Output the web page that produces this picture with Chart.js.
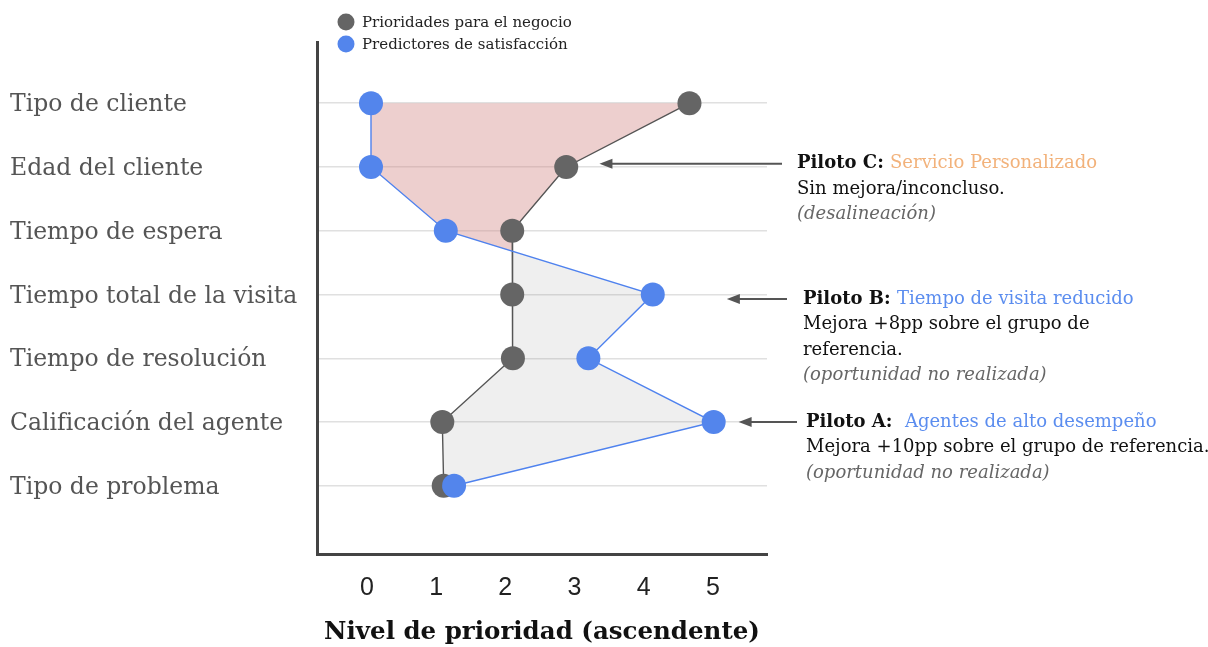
<!DOCTYPE html>
<html lang="es">
<head>
<meta charset="utf-8">
<title>Nivel de prioridad</title>
<script src="https://cdn.jsdelivr.net/npm/chart.js@4.4.1/dist/chart.umd.min.js"></script>
<style>
  html, body { margin: 0; padding: 0; background: #fff; }
  #wrap { position: relative; width: 1208px; height: 647px; }
</style>
</head>
<body>
<div id="wrap"><canvas id="grafico"></canvas></div>
<script>
// Filas del eje vertical (de arriba hacia abajo)
const categorias = [
  'Tipo de cliente',
  'Edad del cliente',
  'Tiempo de espera',
  'Tiempo total de la visita',
  'Tiempo de resolución',
  'Calificación del agente',
  'Tipo de problema'
];

// Nivel de prioridad por fila
const prioridadesNegocio      = [4.66, 2.88, 2.10, 2.10, 2.11, 1.09, 1.11];
const predictoresSatisfaccion = [0.06, 0.06, 1.14, 4.13, 3.20, 5.01, 1.26];

const nivelesX = [0, 1, 2, 3, 4, 5];
const nombresSeries = ['Prioridades para el negocio', 'Predictores de satisfacción'];
const tituloEjeX = 'Nivel de prioridad (ascendente)';

// Notas de los pilotos
const pilotos = [
  { fila: 0.95, punta: 3.36, cola: 782, textoX: 797,
    titulo: 'Piloto C: ', servicio: 'Servicio Personalizado', colorServicio: '#f2b27b',
    lineas: ['Sin mejora/inconcluso.'], nota: '(desalineación)' },
  { fila: 3.07, punta: 5.20, cola: 787, textoX: 803,
    titulo: 'Piloto B: ', servicio: 'Tiempo de visita reducido', colorServicio: '#5b8def',
    lineas: ['Mejora +8pp sobre el grupo de', 'referencia.'], nota: '(oportunidad no realizada)' },
  { fila: 5.0, punta: 5.37, cola: 797, textoX: 806,
    titulo: 'Piloto A:  ', servicio: 'Agentes de alto desempeño', colorServicio: '#5b8def',
    lineas: ['Mejora +10pp sobre el grupo de referencia.'], nota: '(oportunidad no realizada)' }
];

const GRIS = '#656565';
const AZUL = '#5385ec';
const SERIF = '"DejaVu Serif", serif';

// Relleno entre las dos series: rosado donde la prioridad del negocio supera al predictor, gris en caso contrario
const rellenoEntreSeries = {
  id: 'rellenoEntreSeries',
  beforeDatasetsDraw(chart) {
    const { ctx, chartArea, scales: { x, y } } = chart;
    const px = (v, i) => ({ x: x.getPixelForValue(v), y: y.getPixelForValue(i) });
    const g = prioridadesNegocio.map(px);
    const b = predictoresSatisfaccion.map(px);
    const colorPor = d => d > 0 ? 'rgba(210,135,133,0.40)' : 'rgba(120,120,120,0.12)';
    const poligono = (pts, color) => {
      ctx.beginPath();
      ctx.moveTo(pts[0].x, pts[0].y);
      for (let k = 1; k < pts.length; k++) ctx.lineTo(pts[k].x, pts[k].y);
      ctx.closePath();
      ctx.fillStyle = color;
      ctx.fill();
    };
    ctx.save();
    ctx.beginPath();
    ctx.rect(chartArea.left, chartArea.top, chartArea.right - chartArea.left, chartArea.bottom - chartArea.top);
    ctx.clip();
    for (let i = 0; i < g.length - 1; i++) {
      const d0 = prioridadesNegocio[i] - predictoresSatisfaccion[i];
      const d1 = prioridadesNegocio[i + 1] - predictoresSatisfaccion[i + 1];
      if (d0 * d1 >= 0) {
        poligono([g[i], g[i + 1], b[i + 1], b[i]], colorPor(d0 + d1));
      } else {
        const t = d0 / (d0 - d1);
        const cruce = { x: g[i].x + t * (g[i + 1].x - g[i].x), y: g[i].y + t * (g[i + 1].y - g[i].y) };
        poligono([g[i], cruce, b[i]], colorPor(d0));
        poligono([cruce, g[i + 1], b[i + 1]], colorPor(d1));
      }
    }
    ctx.restore();
  }
};

// Leyenda vertical arriba del eje y notas con flechas a la derecha
const leyendaYNotas = {
  id: 'leyendaYNotas',
  afterDraw(chart) {
    const { ctx, chartArea, scales: { x, y } } = chart;
    ctx.save();

    // Leyenda
    const colores = [GRIS, AZUL];
    nombresSeries.forEach((nombre, k) => {
      const cy = 22 + k * 22;
      const cx = chartArea.left + 29;
      ctx.beginPath();
      ctx.arc(cx, cy, 8.5, 0, Math.PI * 2);
      ctx.fillStyle = colores[k];
      ctx.fill();
      ctx.font = '15px ' + SERIF;
      ctx.fillStyle = '#222';
      ctx.textAlign = 'left';
      ctx.textBaseline = 'middle';
      ctx.fillText(nombre, cx + 16, cy + 1);
    });

    // Notas
    const interlinea = 25.5;
    pilotos.forEach(p => {
      const ay = y.getPixelForValue(p.fila);
      const punta = x.getPixelForValue(p.punta);
      ctx.strokeStyle = '#555';
      ctx.lineWidth = 2;
      ctx.beginPath();
      ctx.moveTo(p.cola, ay);
      ctx.lineTo(punta + 10, ay);
      ctx.stroke();
      ctx.beginPath();
      ctx.moveTo(punta, ay);
      ctx.lineTo(punta + 13, ay - 5);
      ctx.lineTo(punta + 13, ay + 5);
      ctx.closePath();
      ctx.fillStyle = '#555';
      ctx.fill();

      ctx.textAlign = 'left';
      ctx.textBaseline = 'middle';
      ctx.font = 'bold 18px ' + SERIF;
      ctx.fillStyle = '#111';
      ctx.fillText(p.titulo, p.textoX, ay);
      const w = ctx.measureText(p.titulo).width;
      ctx.font = '18px ' + SERIF;
      ctx.fillStyle = p.colorServicio;
      ctx.fillText(p.servicio, p.textoX + w, ay);

      ctx.fillStyle = '#111';
      p.lineas.forEach((linea, k) => ctx.fillText(linea, p.textoX, ay + interlinea * (k + 1)));
      ctx.font = 'italic 18px ' + SERIF;
      ctx.fillStyle = '#666';
      ctx.fillText(p.nota, p.textoX, ay + interlinea * (p.lineas.length + 1));
    });
    ctx.restore();
  }
};

const puntos = arr => arr.map((v, i) => ({ x: v, y: i }));

new Chart(document.getElementById('grafico'), {
  type: 'scatter',
  data: {
    datasets: [
      {
        label: nombresSeries[0],
        data: puntos(prioridadesNegocio),
        showLine: true,
        borderColor: '#555',
        borderWidth: 1.4,
        backgroundColor: GRIS,
        pointBackgroundColor: GRIS,
        pointBorderWidth: 0,
        pointRadius: 12,
        pointHoverRadius: 12,
        order: 1
      },
      {
        label: nombresSeries[1],
        data: puntos(predictoresSatisfaccion),
        showLine: true,
        borderColor: '#4f82ee',
        borderWidth: 1.4,
        backgroundColor: AZUL,
        pointBackgroundColor: AZUL,
        pointBorderWidth: 0,
        pointRadius: 12,
        pointHoverRadius: 12,
        order: 0
      }
    ]
  },
  options: {
    responsive: true,
    maintainAspectRatio: false,
    animation: false,
    events: [],
    layout: { padding: { left: 10, top: 42, right: 441, bottom: 0 } },
    plugins: {
      legend: { display: false },
      tooltip: { enabled: false }
    },
    scales: {
      x: {
        type: 'linear',
        min: -0.72,
        max: 5.78,
        afterBuildTicks: s => { s.ticks = nivelesX.map(v => ({ value: v })); },
        afterFit: s => { s.height = 93; },
        grid: { display: false },
        border: { display: true, color: '#444', width: 3 },
        ticks: {
          padding: 11,
          color: '#222',
          font: { family: '"Liberation Sans", Arial, sans-serif', size: 25 },
          callback: v => String(v)
        },
        title: {
          display: true,
          text: tituloEjeX,
          color: '#111',
          font: { family: SERIF, size: 24.5, weight: 'bold' },
          padding: { top: 0, bottom: 0 }
        }
      },
      y: {
        type: 'linear',
        reverse: true,
        min: -0.96,
        max: 7.07,
        afterBuildTicks: s => { s.ticks = categorias.map((_, i) => ({ value: i })); },
        afterFit: s => { s.width = 307; },
        grid: { color: '#e0e0e0', lineWidth: 1.5, drawTicks: false },
        border: { display: true, color: '#444', width: 3 },
        ticks: {
          crossAlign: 'far',
          labelOffset: 2,
          color: '#555',
          font: { family: SERIF, size: 23.5 },
          callback: v => categorias[v] ?? ''
        }
      }
    }
  },
  plugins: [rellenoEntreSeries, leyendaYNotas]
});
</script>
</body>
</html>
